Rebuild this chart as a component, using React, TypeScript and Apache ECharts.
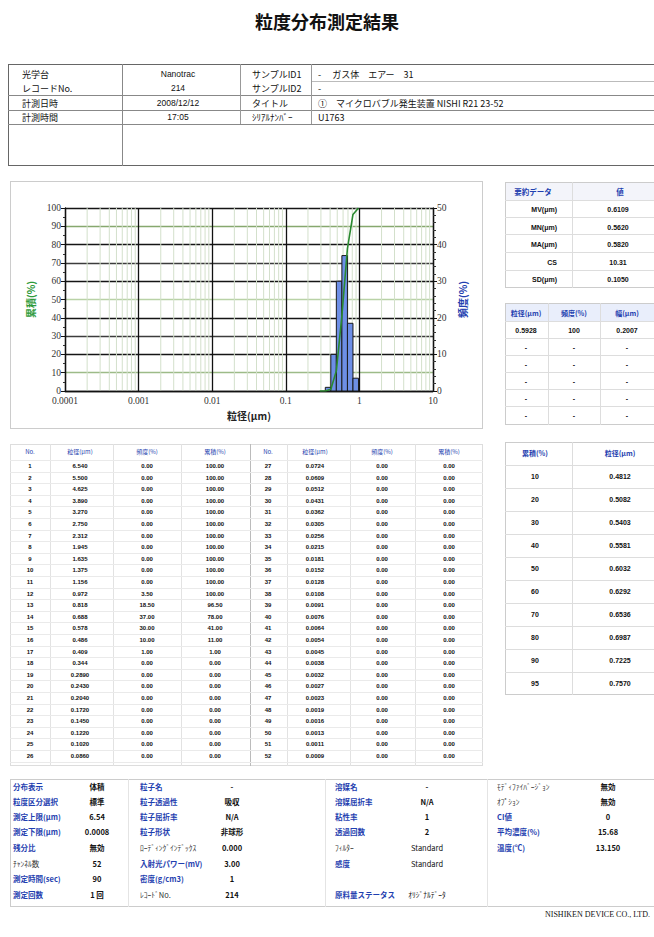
import React, { useEffect, useRef } from 'react';
import * as echarts from 'echarts';

const JP = '"Noto Sans CJK JP", "Noto Sans", sans-serif';
const LAT = '"Liberation Sans", Arial, sans-serif';
const BLUE = '#1f3fb0';
const GREEN = '#2e9a3a';

// ---- chart data ----
const histLower = [0.344, 0.409, 0.486, 0.578, 0.688, 0.818];
const histUpper = [0.409, 0.486, 0.578, 0.688, 0.818, 0.972];
const histFreq = [1.0, 10.0, 30.0, 37.0, 18.5, 3.5];
const cumSize = [0.289, 0.344, 0.409, 0.486, 0.578, 0.688, 0.818, 0.972];
const cumPct = [0, 0, 1, 11, 41, 78, 96.5, 100];
const xTickLabels = ['0.0001', '0.001', '0.01', '0.1', '1', '10'];
const leftGridColors = ['transparent', '#9dbb88', 'transparent', '#3c3c3c', 'transparent', '#b9d2a6', 'transparent', '#3c3c3c', 'transparent', '#86a86e', 'transparent'];

// ---- header table ----
const headerLabels1 = ['光学台', 'レコードNo.', '計測日時', '計測時間'];
const headerValues1 = ['Nanotrac', '214', '2008/12/12', '17:05'];
const headerLabels2 = ['サンプルID1', 'サンプルID2', 'タイトル', 'ｼﾘｱﾙﾅﾝﾊﾞｰ'];
const headerValues2 = ['-　 ガス体　エアー　31', '-', '①　マイクロバブル発生装置 NISHI R21 23-52', 'U1763'];

// ---- summary tables ----
const summaryLabels = ['MV(μm)', 'MN(μm)', 'MA(μm)', 'CS', 'SD(μm)'];
const summaryValues = ['0.6109', '0.5620', '0.5820', '10.31', '0.1050'];
const peakHeaders = ['粒径(μm)', '頻度(%)', '幅(μm)'];
const peakRows = [
  ['0.5928', '100', '0.2007'],
  ['-', '-', '-'],
  ['-', '-', '-'],
  ['-', '-', '-'],
  ['-', '-', '-'],
  ['-', '-', '-'],
];
const pctLevels = ['10', '20', '30', '40', '50', '60', '70', '80', '90', '95'];
const pctSizes = ['0.4812', '0.5082', '0.5403', '0.5581', '0.6032', '0.6292', '0.6536', '0.6987', '0.7225', '0.7570'];

// ---- channel table ----
const channelSizes = [
  '6.540', '5.500', '4.625', '3.890', '3.270', '2.750', '2.312', '1.945', '1.635', '1.375', '1.156', '0.972', '0.818',
  '0.688', '0.578', '0.486', '0.409', '0.344', '0.2890', '0.2430', '0.2040', '0.1720', '0.1450', '0.1220', '0.1020', '0.0860',
  '0.0724', '0.0609', '0.0512', '0.0431', '0.0362', '0.0305', '0.0256', '0.0215', '0.0181', '0.0152', '0.0128', '0.0108', '0.0091',
  '0.0076', '0.0064', '0.0054', '0.0045', '0.0038', '0.0032', '0.0027', '0.0023', '0.0019', '0.0016', '0.0013', '0.0011', '0.0009',
];

// ---- settings table ----
const settingsRows = [
  ['分布表示', '体積', '粒子名', '-', '溶媒名', '-', 'ﾓﾃﾞｨﾌｧｲﾊﾞｰｼﾞｮﾝ', '無効'],
  ['粒度区分選択', '標準', '粒子透過性', '吸収', '溶媒屈折率', 'N/A', 'ｵﾌﾟｼｮﾝ', '無効'],
  ['測定上限(μm)', '6.54', '粒子屈折率', 'N/A', '粘性率', '1', 'CI値', '0'],
  ['測定下限(μm)', '0.0008', '粒子形状', '非球形', '透過回数', '2', '平均濃度(%)', '15.68'],
  ['残分比', '無効', 'ﾛｰﾃﾞｨﾝｸﾞｲﾝﾃﾞｯｸｽ', '0.000', 'ﾌｨﾙﾀｰ', 'Standard', '温度(℃)', '13.150'],
  ['ﾁｬﾝﾈﾙ数', '52', '入射光パワー(mV)', '3.00', '感度', 'Standard', '', ''],
  ['測定時間(sec)', '90', '密度(g/cm3)', '1', '', '', '', ''],
  ['測定回数', '1 回', 'ﾚｺｰﾄﾞNo.', '214', '原料量ステータス', 'ｵﾘｼﾞﾅﾙﾃﾞｰﾀ', '', ''],
];
const plainLabels = ['ﾓﾃﾞｨﾌｧｲﾊﾞｰｼﾞｮﾝ', 'ｵﾌﾟｼｮﾝ', 'ﾛｰﾃﾞｨﾝｸﾞｲﾝﾃﾞｯｸｽ', 'ﾌｨﾙﾀｰ', 'ﾁｬﾝﾈﾙ数', 'ﾚｺｰﾄﾞNo.'];
const plainValues = ['Standard', 'ｵﾘｼﾞﾅﾙﾃﾞｰﾀ'];

type TP = { x: number; y: number; children: React.ReactNode; align?: 'left' | 'center' | 'right'; size?: number; color?: string; bold?: boolean; font?: string };
const T = ({ x, y, children, align = 'left', size = 8, color = '#111', bold = false, font = JP }: TP) => {
  const tx = align === 'center' ? '-50%' : align === 'right' ? '-100%' : '0';
  return (
    <div style={{ position: 'absolute', left: x, top: y, transform: `translate(${tx}, -50%)`, fontSize: size, lineHeight: 1, whiteSpace: 'nowrap', color, fontWeight: bold ? 700 : 400, fontFamily: font }}>
      {children}
    </div>
  );
};
const HL = ({ x1, x2, y, c = '#999', w = 1 }: { x1: number; x2: number; y: number; c?: string; w?: number }) => (
  <div style={{ position: 'absolute', left: x1, top: y, width: x2 - x1, height: 0, borderTop: `${w}px solid ${c}` }} />
);
const VL = ({ x, y1, y2, c = '#999', w = 1 }: { x: number; y1: number; y2: number; c?: string; w?: number }) => (
  <div style={{ position: 'absolute', left: x, top: y1, width: 0, height: y2 - y1, borderLeft: `${w}px solid ${c}` }} />
);
const Box = ({ x, y, w, h, c = '#bbb', bw = 1, bg }: { x: number; y: number; w: number; h: number; c?: string; bw?: number; bg?: string }) => (
  <div style={{ position: 'absolute', left: x, top: y, width: w, height: h, border: `${bw}px solid ${c}`, boxSizing: 'border-box', background: bg }} />
);

function Chart() {
  const ref = useRef<HTMLDivElement>(null);
  useEffect(() => {
    const chart = echarts.init(ref.current!, null, { renderer: 'svg' });
    // minor log grid positions (2..9 in each decade)
    const minorLines: number[][] = [];
    for (let e = -4; e <= 0; e++) for (let k = 2; k <= 9; k++) minorLines.push([k * Math.pow(10, e), 0]);
    const axisLbl = { fontSize: 9.5, color: '#333', fontFamily: '"Liberation Serif", serif' };
    chart.setOption({
      animation: false,
      grid: { left: 55, right: 49, top: 26, bottom: 37 },
      xAxis: {
        type: 'log', logBase: 10, min: 0.0001, max: 10,
        name: '粒径(μm)', nameLocation: 'middle', nameGap: 18,
        nameTextStyle: { fontFamily: JP, fontSize: 10, fontWeight: 'bold', color: '#222' },
        axisLine: { lineStyle: { color: '#111', width: 1.3 } },
        axisTick: { show: true, inside: true, length: 3, lineStyle: { color: '#111' } },
        axisLabel: { ...axisLbl, margin: 5, formatter: (v: number) => xTickLabels[Math.round(Math.log10(v)) + 4] ?? '' },
        splitLine: { show: true, lineStyle: { color: '#111', width: 1.3 } },
      },
      yAxis: [
        {
          type: 'value', min: 0, max: 100, interval: 10, position: 'left',
          name: '累積(%)', nameLocation: 'middle', nameGap: 30, nameRotate: 90,
          nameTextStyle: { color: GREEN, fontWeight: 'bold', fontFamily: JP, fontSize: 10 },
          axisLine: { show: true, lineStyle: { color: '#111', width: 1.3 } },
          axisTick: { show: true, length: 4, lineStyle: { color: '#111' } },
          minorTick: { show: true, splitNumber: 2, length: 2, lineStyle: { color: '#333' } },
          axisLabel: { ...axisLbl, margin: 4 },
          splitLine: { show: true, showMinLine: true, showMaxLine: true, lineStyle: { color: leftGridColors, width: 1.4 } },
        },
        {
          type: 'value', min: 0, max: 50, interval: 10, position: 'right',
          name: '頻度(%)', nameLocation: 'middle', nameGap: 24, nameRotate: 90,
          nameTextStyle: { color: BLUE, fontWeight: 'bold', fontFamily: JP, fontSize: 10 },
          axisLine: { show: true, lineStyle: { color: '#111', width: 1.3 } },
          axisTick: { show: true, length: 4, lineStyle: { color: '#111' } },
          minorTick: { show: true, splitNumber: 5, length: 3, lineStyle: { color: '#333' } },
          axisLabel: { ...axisLbl, margin: 4 },
          splitLine: { show: true, lineStyle: { color: '#151515', width: 1.4 } },
        },
      ],
      series: [
        {
          type: 'custom', yAxisIndex: 0, z: 0, silent: true,
          data: minorLines,
          encode: { x: 0, y: 1 },
          renderItem: (params: any, api: any) => {
            const p0 = api.coord([api.value(0), 0]);
            const p1 = api.coord([api.value(0), 100]);
            return {
              type: 'line',
              shape: { x1: p0[0], y1: p0[1], x2: p1[0], y2: p1[1] },
              style: { stroke: '#d3e0cb', lineWidth: 1 },
            };
          },
        },
        {
          type: 'custom', yAxisIndex: 1, z: 3,
          data: histLower.map((lo, i) => [lo, histUpper[i], histFreq[i]]),
          encode: { x: [0, 1], y: 2 },
          renderItem: (params: any, api: any) => {
            const p0 = api.coord([api.value(0), 0]);
            const p1 = api.coord([api.value(1), api.value(2)]);
            return {
              type: 'rect',
              shape: { x: p0[0], y: p1[1], width: p1[0] - p0[0], height: p0[1] - p1[1] },
              style: { fill: '#6d8fe6', stroke: '#1a1a1a', lineWidth: 1 },
            };
          },
        },
        {
          type: 'line', yAxisIndex: 0, z: 5,
          data: cumSize.map((s, i) => [s, cumPct[i]]),
          showSymbol: false, symbol: 'none',
          lineStyle: { color: '#2a8a30', width: 1.6 },
        },
      ],
    });
    return () => chart.dispose();
  }, []);
  return <div ref={ref} style={{ position: 'absolute', left: 10, top: 182, width: 472, height: 246 }} />;
}

export default function App() {
  const freqOf = (s: string) => {
    const idx = histUpper.findIndex((u) => Math.abs(u - parseFloat(s)) < 1e-6);
    return idx >= 0 ? histFreq[idx] : 0;
  };
  const chFreq = channelSizes.map(freqOf);
  const chCum = channelSizes.map((_, i) => chFreq.slice(i).reduce((a, b) => a + b, 0));
  const colX = [30, 80, 147, 215, 268, 315, 382, 449];
  const sepX = [10, 50, 113, 181, 250, 287, 350, 415, 482];
  const rowY0 = 466;
  const rowH = 11.6;
  const dataHeaders = ['No.', '粒径(μm)', '頻度(%)', '累積(%)'];

  const setLabelX = [13, 140, 335, 497];
  const setValX = [97, 232, 427, 608];
  const setRowY = [787, 802, 817, 832, 848, 864, 879, 895];
  const hy = [74, 88, 103, 117];

  return (
    <div style={{ position: 'absolute', left: 0, top: 0, width: 654, height: 937, overflow: 'hidden', background: '#fff', fontFamily: JP }}>
      {/* Title */}
      <T x={327} y={21} align="center" size={18} bold>粒度分布測定結果</T>

      {/* Header table */}
      <Box x={8} y={64} w={660} h={102} c="#666" bw={1.5} />
      <HL x1={311} x2={654} y={81} c="#bbb" />
      <HL x1={8} x2={654} y={95} c="#888" />
      <HL x1={8} x2={654} y={110} c="#888" />
      <HL x1={8} x2={654} y={124} c="#888" />
      <VL x={122} y1={64} y2={166} c="#888" />
      <VL x={240} y1={64} y2={124} c="#999" />
      <VL x={311} y1={64} y2={124} c="#999" />
      {headerLabels1.map((l, i) => (
        <T key={'h1' + i} x={22} y={hy[i]} size={9}>{l}</T>
      ))}
      {headerValues1.map((l, i) => (
        <T key={'h2' + i} x={178} y={hy[i]} align="center" size={8.5} font={LAT}>{l}</T>
      ))}
      {headerLabels2.map((l, i) => (
        <T key={'h3' + i} x={252} y={hy[i]} size={9}>{l}</T>
      ))}
      {headerValues2.map((l, i) => (
        <T key={'h4' + i} x={318} y={hy[i]} size={9}>{l}</T>
      ))}

      {/* Chart panel */}
      <Box x={10} y={181} w={473} h={248} c="#ccc" />
      <Chart />

      {/* Summary table */}
      <Box x={505} y={182} w={152} h={106} c="#ccc" />
      <div style={{ position: 'absolute', left: 506, top: 183, width: 150, height: 17, background: '#f3f4fa' }} />
      {[200, 217, 234, 252, 270].map((y) => <HL key={'s' + y} x1={505} x2={654} y={y} c="#ddd" />)}
      <VL x={572} y1={182} y2={288} c="#ddd" />
      <T x={533} y={192} align="center" size={7.5} color={BLUE} bold>要約データ</T>
      <T x={620} y={192} align="center" size={7.5} color={BLUE} bold>値</T>
      {summaryLabels.map((l, i) => (
        <T key={'sl' + i} x={557} y={209 + i * 17.5} align="right" size={7} bold font={LAT}>{l}</T>
      ))}
      {summaryValues.map((l, i) => (
        <T key={'sv' + i} x={618} y={209 + i * 17.5} align="center" size={7} bold font={LAT}>{l}</T>
      ))}

      {/* Peak table */}
      <Box x={505} y={303} w={152} h={122} c="#ccc" />
      <div style={{ position: 'absolute', left: 506, top: 304, width: 150, height: 17, background: '#e9eefb' }} />
      {[321, 338, 355, 372, 389, 406].map((y) => <HL key={'p' + y} x1={505} x2={654} y={y} c="#ddd" />)}
      <VL x={548} y1={303} y2={425} c="#ddd" />
      <VL x={600} y1={303} y2={425} c="#ddd" />
      {peakHeaders.map((h, i) => (
        <T key={'ph' + i} x={[526, 574, 627][i]} y={313} align="center" size={7} color={BLUE} bold>{h}</T>
      ))}
      {peakRows.map((r, ri) =>
        r.map((c, ci) => (
          <T key={'pr' + ri + ci} x={[526, 574, 627][ci]} y={330 + ri * 17} align="center" size={7} bold font={LAT}>{c}</T>
        ))
      )}

      {/* Percentile table */}
      <Box x={505} y={442} w={152} h={253} c="#ccc" />
      {pctLevels.map((_, i) => <HL key={'ql' + i} x1={505} x2={654} y={464.5 + i * 23} c="#ddd" />)}
      <VL x={572} y1={442} y2={695} c="#ddd" />
      <T x={535} y={453} align="center" size={7} color={BLUE} bold>累積(%)</T>
      <T x={620} y={453} align="center" size={7} color={BLUE} bold>粒径(μm)</T>
      {pctLevels.map((l, i) => (
        <T key={'q' + i} x={535} y={476 + i * 23} align="center" size={7} bold font={LAT}>{l}</T>
      ))}
      {pctSizes.map((l, i) => (
        <T key={'qs' + i} x={620} y={476 + i * 23} align="center" size={7} bold font={LAT}>{l}</T>
      ))}

      {/* Channel data table */}
      <Box x={10} y={444} w={473} h={322} c="#ddd" />
      {sepX.slice(1, -1).map((x) => <VL key={'dv' + x} x={x} y1={444} y2={766} c={x === 250 ? '#bbb' : '#e2e2e2'} />)}
      {Array.from({ length: 27 }).map((_, i) => (
        <HL key={'dh' + i} x1={10} x2={483} y={460 + i * rowH} c="#eaeaea" />
      ))}
      {[0, 1].map((half) =>
        dataHeaders.map((h, ci) => (
          <T key={'dhd' + half + ci} x={colX[half * 4 + ci]} y={452} align="center" size={6} color={BLUE}>{h}</T>
        ))
      )}
      {channelSizes.map((s, i) => {
        const half = i < 26 ? 0 : 1;
        const r = i % 26;
        const y = rowY0 + r * rowH;
        const b = half * 4;
        return (
          <React.Fragment key={'ch' + i}>
            <T x={colX[b]} y={y} align="center" size={6} bold font={LAT}>{i + 1}</T>
            <T x={colX[b + 1]} y={y} align="center" size={6} bold font={LAT}>{s}</T>
            <T x={colX[b + 2]} y={y} align="center" size={6} bold font={LAT}>{chFreq[i].toFixed(2)}</T>
            <T x={colX[b + 3]} y={y} align="center" size={6} bold font={LAT}>{chCum[i].toFixed(2)}</T>
          </React.Fragment>
        );
      })}

      {/* Settings table */}
      <Box x={10} y={779} w={650} h={128} c="#ccc" />
      {[128, 325, 487].map((x) => <VL key={'sx' + x} x={x} y1={779} y2={907} c="#e4e4e4" />)}
      {settingsRows.map((row, ri) =>
        [0, 1, 2, 3].map((ci) => {
          const lbl = row[ci * 2];
          const val = row[ci * 2 + 1];
          const plainL = plainLabels.includes(lbl);
          const plainV = plainValues.includes(val);
          return (
            <React.Fragment key={'st' + ri + ci}>
              {lbl && <T x={setLabelX[ci]} y={setRowY[ri]} size={7.5} color={plainL ? '#333' : BLUE} bold={!plainL}>{lbl}</T>}
              {val && <T x={setValX[ci]} y={setRowY[ri]} align="center" size={7.5} bold={!plainV}>{val}</T>}
            </React.Fragment>
          );
        })
      )}

      {/* Footer */}
      <T x={650} y={915} align="right" size={8} font={'"Liberation Serif", serif'}>NISHIKEN DEVICE CO., LTD.</T>
    </div>
  );
}
